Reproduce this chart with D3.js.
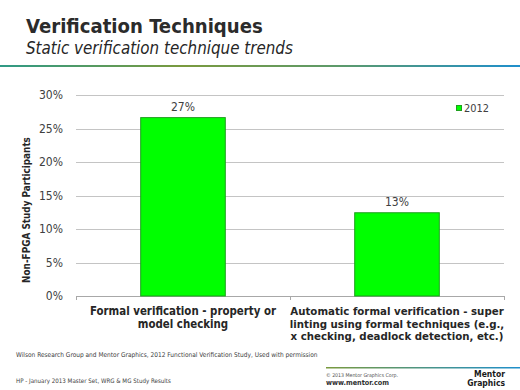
<!DOCTYPE html>
<html><head><meta charset="utf-8">
<script src="https://cdn.jsdelivr.net/npm/d3@7"></script>
<style>
html,body{margin:0;padding:0;background:#fff;}
svg{display:block;}
</style></head>
<body>
<script>
// ---- data ----
const categories = [
  "Formal verification - property or\nmodel checking",
  "Automatic formal verification - super\nlinting using formal techniques (e.g.,\nx checking, deadlock detection, etc.)"
];
const values2012 = [26.7, 12.5];
const valueLabels = ["27%", "13%"];
const seriesNames = ["2012"];
const yTicks = [0, 5, 10, 15, 20, 25, 30];
const yAxisTitle = "Non-FPGA Study Participants";
const title = "Verification Techniques";
const subtitle = "Static verification technique trends";
const sourceNote = "Wilson Research Group and Mentor Graphics, 2012 Functional Verification Study,   Used with permission";
const footerLeft = "HP - January 2013 Master Set, WRG & MG Study Results";
const footerCopy = "\u00a9 2013 Mentor Graphics Corp.";
const footerUrl = "www.mentor.com";

const W = 520, H = 390;
const FONT = "'DejaVu Sans Condensed','DejaVu Sans',Verdana,sans-serif";
const svg = d3.select("body").append("svg").attr("width", W).attr("height", H)
  .style("font-family", FONT);

function fit(sel, target) {
  const n = sel.node();
  let fs = parseFloat(sel.attr("font-size"));
  const w = n.getComputedTextLength();
  if (w > 0) sel.attr("font-size", (fs * target / w).toFixed(2));
  return sel;
}

const defs = svg.append("defs");
const g1 = defs.append("linearGradient").attr("id", "hdr").attr("x1", "0%").attr("x2", "100%");
g1.append("stop").attr("offset", "0%").attr("stop-color", "#2f9a86");
g1.append("stop").attr("offset", "35%").attr("stop-color", "#7a9a3e");
g1.append("stop").attr("offset", "65%").attr("stop-color", "#5d9a6a");
g1.append("stop").attr("offset", "100%").attr("stop-color", "#1f8fcc");
const g2 = defs.append("linearGradient").attr("id", "ftr").attr("x1", "0%").attr("x2", "100%");
g2.append("stop").attr("offset", "0%").attr("stop-color", "#7a9a3e");
g2.append("stop").attr("offset", "100%").attr("stop-color", "#1f8fcc");

// header
fit(svg.append("text").attr("x", 26).attr("y", 33).attr("font-size", 20)
  .attr("font-weight", "bold").attr("fill", "#2b2b2b").text(title), 237);
fit(svg.append("text").attr("x", 26).attr("y", 54).attr("font-size", 16)
  .attr("font-style", "italic").attr("fill", "#262626").text(subtitle), 267);
svg.append("rect").attr("x", 0).attr("y", 65).attr("width", W).attr("height", 2).attr("fill", "url(#hdr)");

// chart
const x0 = 76, x1 = 504, yTop = 95, yBot = 296;
const x = d3.scaleBand().domain(d3.range(categories.length)).range([x0, x1])
  .paddingInner(0.6).paddingOuter(0.3);
const y = d3.scaleLinear().domain([0, 30]).range([yBot, yTop]);

// gridlines
svg.append("g").selectAll("line").data(yTicks.filter(d => d > 0)).join("line")
  .attr("x1", x0).attr("x2", x1).attr("y1", d => Math.round(y(d)) + 0.5).attr("y2", d => Math.round(y(d)) + 0.5)
  .attr("stroke", "#c4c4c4").attr("stroke-width", 1);

// y tick labels
svg.append("g").selectAll("text").data(yTicks).join("text")
  .attr("x", 63).attr("y", d => y(d)).attr("dy", "0.35em").attr("text-anchor", "end")
  .attr("font-size", 12).attr("fill", "#404040").text(d => d + "%");

// baseline and category ticks
svg.append("line").attr("x1", x0).attr("x2", x1).attr("y1", yBot + 0.5).attr("y2", yBot + 0.5)
  .attr("stroke", "#a8a8a8");
const step = x.step();
const bounds = [x0, x0 + step, x1];
svg.append("g").selectAll("line").data(bounds).join("line")
  .attr("x1", d => Math.round(d) + 0.5).attr("x2", d => Math.round(d) + 0.5)
  .attr("y1", yBot).attr("y2", yBot + 4).attr("stroke", "#a8a8a8");

// y axis title
fit(svg.append("text").attr("transform", `translate(30,210) rotate(-90)`)
  .attr("text-anchor", "middle").attr("font-size", 11).attr("font-weight", "bold")
  .attr("fill", "#262626").text(yAxisTitle), 146);

// bars
svg.append("g").selectAll("rect").data(values2012).join("rect")
  .attr("x", (d, i) => x(i) + 0.5).attr("y", d => y(d) + 0.5)
  .attr("width", x.bandwidth() - 1).attr("height", d => yBot - y(d) - 0.5)
  .attr("fill", "#00ff00").attr("stroke", "#1f9f1f").attr("stroke-width", 1);

// value labels
svg.append("g").selectAll("text").data(values2012).join("text")
  .attr("x", (d, i) => x(i) + x.bandwidth() / 2).attr("y", d => y(d) - 6)
  .attr("text-anchor", "middle").attr("font-size", 12).attr("fill", "#404040")
  .text((d, i) => valueLabels[i]);

// category labels
const catTargets = [186, 213];
categories.forEach((c, i) => {
  const lines = c.split("\n");
  const cx = x(i) + x.bandwidth() / 2;
  const t = svg.append("text").attr("x", cx).attr("y", 315).attr("text-anchor", "middle")
    .attr("font-size", 12).attr("font-weight", "bold").attr("fill", "#262626");
  const ts = t.selectAll("tspan").data(lines).join("tspan").attr("x", cx).text(d => d);
  const w = t.select("tspan").node().getComputedTextLength();
  const fs = Math.min(12.5, 12 * catTargets[i] / w);
  t.attr("font-size", fs.toFixed(2)).attr("letter-spacing", 0);
  // adjust letter spacing so widths match target
  const w2 = t.select("tspan").node().getComputedTextLength();
  const ls = (catTargets[i] - w2) / lines[0].length;
  t.attr("letter-spacing", ls.toFixed(3));
  ts.attr("y", (d, j) => 315 + j * 12.7);
});

// legend
const lg = svg.append("g").attr("transform", "translate(456,105)");
lg.append("rect").attr("x", 0.5).attr("y", 0.5).attr("width", 5).attr("height", 5)
  .attr("fill", "#00ff00").attr("stroke", "#1f9f1f");
fit(lg.append("text").attr("x", 8).attr("y", 3).attr("dy", "0.35em").attr("font-size", 12)
  .attr("fill", "#404040").text(seriesNames[0]), 25);

// footer
fit(svg.append("text").attr("x", 16).attr("y", 357).attr("font-size", 7)
  .attr("fill", "#404040").text(sourceNote), 302);
svg.append("rect").attr("x", 326).attr("y", 367).attr("width", W - 326).attr("height", 1.5).attr("fill", "url(#ftr)");
fit(svg.append("text").attr("x", 16).attr("y", 383).attr("font-size", 6.5)
  .attr("fill", "#404040").text(footerLeft), 155);
fit(svg.append("text").attr("x", 326).attr("y", 377).attr("font-size", 6)
  .attr("fill", "#505050").text(footerCopy), 72);
fit(svg.append("text").attr("x", 326).attr("y", 385).attr("font-size", 7)
  .attr("font-weight", "bold").attr("fill", "#303030").text(footerUrl), 63);
// logo
svg.append("text").attr("x", 505).attr("y", 377).attr("text-anchor", "end").attr("font-size", 8.5)
  .attr("font-weight", "bold").attr("fill", "#1a1a1a").text("Mentor");
svg.append("text").attr("x", 505).attr("y", 386).attr("text-anchor", "end").attr("font-size", 8.5)
  .attr("font-weight", "bold").attr("fill", "#1a1a1a").text("Graphics");
</script>
</body></html>
